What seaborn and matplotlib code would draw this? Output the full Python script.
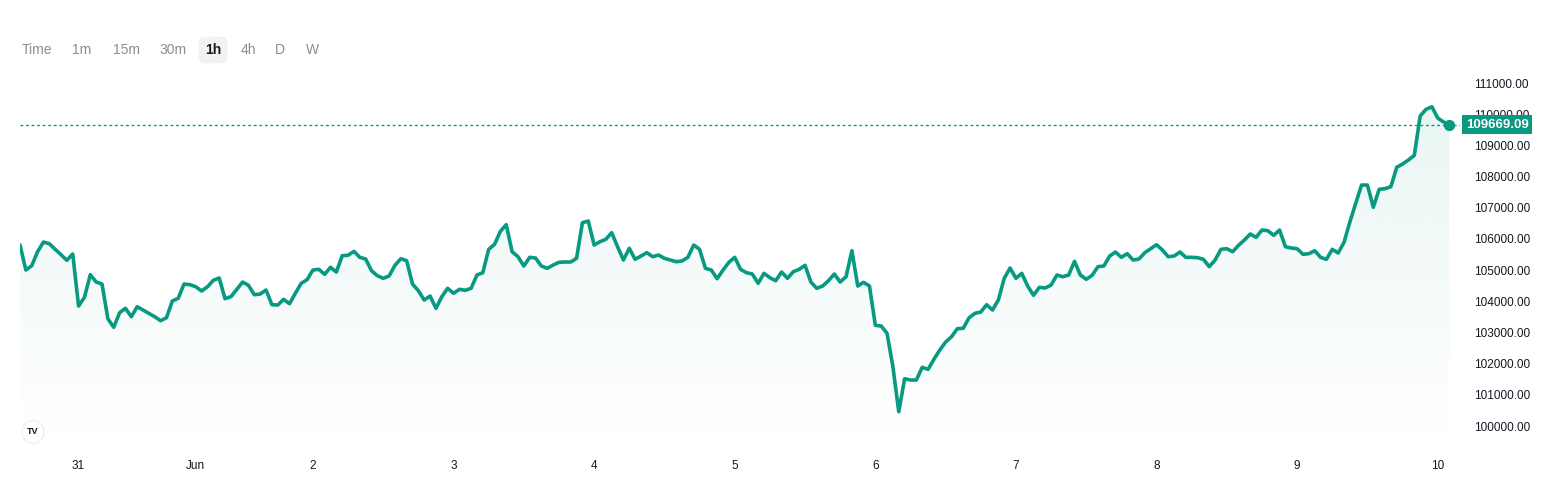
"""
BTC 1h 折线图 — TradingView 风格复刻
"""

import numpy as np
import pandas as pd
import matplotlib
matplotlib.use("Agg")
import matplotlib.pyplot as plt
import seaborn as sns

# 每小时收盘价
prices = [
    105805, 105003, 105141, 105590, 105901, 105847, 105667, 105495, 105314, 105516,
    103849, 104128, 104853, 104618, 104554, 103441, 103165, 103634, 103775, 103505,
    103826, 103720, 103614, 103505, 103377, 103473, 104009, 104095, 104554, 104532,
    104468, 104330, 104468, 104673, 104747, 104083, 104147, 104384, 104618, 104512,
    104211, 104233, 104362, 103890, 103880, 104063, 103922, 104256, 104577, 104692,
    105003, 105025, 104865, 105090, 104939, 105462, 105475, 105603, 105410, 105356,
    104981, 104821,
    104737, 104811, 105154, 105366, 105302, 104554, 104339, 104041, 104169, 103775,
    104147, 104416, 104256, 104384, 104352, 104416, 104843, 104917, 105667, 105827,
    106244, 106456, 105590, 105430, 105131, 105410, 105388, 105131, 105057, 105163,
    105249, 105260, 105260, 105378, 106520, 106575, 105805, 105911, 105988, 106200,
    105750, 105324, 105699, 105346, 105452, 105559, 105430, 105484, 105378, 105324,
    105270, 105292, 105410, 105805, 105667, 105057, 105003, 104725, 105003, 105249,
    105410,
    105025, 104917, 104875, 104577, 104897, 104756, 104660, 104939, 104737, 104950,
    105025, 105154, 104618, 104416, 104490, 104660, 104875, 104618, 104788, 105622,
    104490, 104608, 104490, 103230, 103207, 102973, 101902, 100459, 101517, 101475,
    101475, 101881, 101817, 102138, 102437, 102694, 102864, 103121, 103133, 103473,
    103614, 103656, 103890, 103720, 104041, 104737, 105067, 104737, 104897, 104490,
    104192, 104448, 104426, 104522, 104843, 104788, 104843, 105282, 104843, 104705,
    104833, 105110,
    105131, 105452, 105580, 105410, 105527, 105324, 105356, 105559, 105687, 105815,
    105645, 105430, 105452, 105580, 105410, 105410, 105399, 105346, 105110, 105324,
    105667, 105687, 105590, 105795, 105965, 106158, 106052, 106286, 106264, 106116,
    106286, 105750, 105709, 105687, 105506, 105527, 105622, 105410, 105346, 105667,
    105548, 105891, 106543, 107142, 107729, 107729, 107014, 107591, 107612, 107676,
    108298, 108403, 108531, 108682, 109942, 110157, 110240, 109878, 109750, 109669.09,
]
last_price = 109669.09

day_labels = ["31", "Jun", "2", "3", "4", "5", "6", "7", "8", "9", "10"]
day_ticks = [10, 30, 50, 74, 98, 122, 146, 170, 194, 218, 242]
price_ticks = list(range(100000, 111001, 1000))
intervals = ["Time", "1m", "15m", "30m", "1h", "4h", "D", "W"]
interval_x = [37, 82, 126, 173, 213, 248, 280, 312]
active_interval = "1h"

TEAL = "#089981"
TEXT = "#131722"
GREY = "#8a8d96"
W, H = 1546, 482

sns.set_theme(style="white")
plt.rcParams["font.family"] = ["Liberation Sans", "DejaVu Sans"]

df = pd.DataFrame({"bar": np.arange(len(prices)), "price": prices})

fig = plt.figure(figsize=(W / 100, H / 100), dpi=100)
ax = fig.add_axes([20 / W, 1 - 445 / H, 1440 / W, 375 / H])

ymin, ymax = 99391, 111418
xmax = len(prices) - 1 + 1.8

# 渐变填充
poly = ax.fill_between(df["bar"], df["price"], ymin, color="none", lw=0)
rgba = np.zeros((256, 1, 4))
rgba[..., :3] = matplotlib.colors.to_rgb(TEAL)
rgba[..., 3] = np.linspace(0.0, 0.09, 256)[:, None]
img = ax.imshow(rgba, extent=[0, len(prices) - 1, ymin, max(prices)],
                origin="lower", aspect="auto", zorder=1)
img.set_clip_path(poly.get_paths()[0], ax.transData)

sns.lineplot(data=df, x="bar", y="price", color=TEAL, linewidth=2.6, ax=ax, zorder=3)
ax.axhline(last_price, color=TEAL, linestyle=(0, (2, 2)), linewidth=1, zorder=2)
ax.scatter([df["bar"].iloc[-1]], [last_price], s=50, color=TEAL, zorder=4)

ax.set_xlim(0, xmax)
ax.set_ylim(ymin, ymax)
ax.set_xlabel("")
ax.set_ylabel("")
for s in ax.spines.values():
    s.set_visible(False)

ax.set_xticks(day_ticks)
ax.set_xticklabels(day_labels)
ax.yaxis.tick_right()
ax.set_yticks(price_ticks)
ax.set_yticklabels([f"{p:.2f}" for p in price_ticks])
ax.tick_params(axis="x", length=0, pad=11, labelsize=8.5, labelcolor=TEXT)
ax.tick_params(axis="y", length=0, pad=10, labelsize=8.5, labelcolor=TEXT)

# 当前价格标签（盖住部分 110000.00，与原图一致）
ax.text(1.004, last_price, f"{last_price:.2f}", transform=ax.get_yaxis_transform(),
        ha="left", va="center", color="white", fontsize=9.5, fontweight="bold",
        bbox=dict(boxstyle="square,pad=0.28", fc=TEAL, ec="none"),
        clip_on=False, zorder=6)

# 顶部周期工具栏
for label, px in zip(intervals, interval_x):
    active = label == active_interval
    fig.text(px / W, 1 - 50 / H, label, ha="center", va="center", fontsize=10,
             color=TEXT if active else GREY, fontweight="bold" if active else "normal",
             bbox=dict(boxstyle="round,pad=0.45", fc="#f2f2f2", ec="none") if active else None)

# 左下角 logo
fig.text(33 / W, 1 - 432 / H, "TV", ha="center", va="center", fontsize=6.5,
         fontweight="bold", color=TEXT,
         bbox=dict(boxstyle="circle,pad=0.6", fc="white", ec="#ececec", lw=0.8))

fig.savefig("out.png", dpi=100, facecolor="white")
